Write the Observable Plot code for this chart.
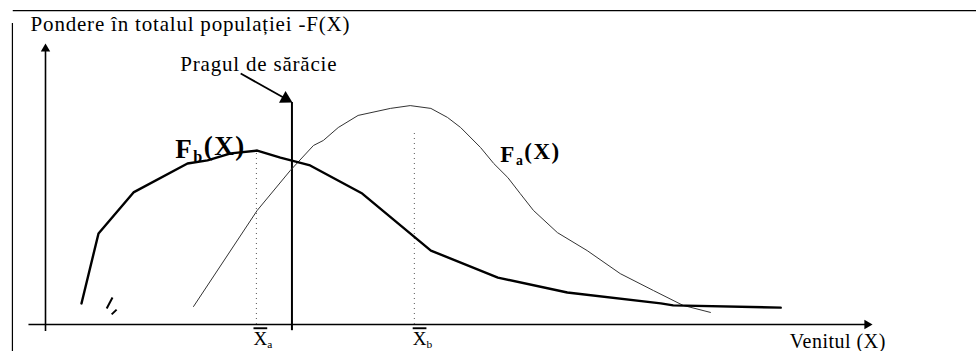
<!DOCTYPE html>
<html>
<head>
<meta charset="utf-8">
<script src="https://cdn.jsdelivr.net/npm/d3@7"></script>
<script src="https://cdn.jsdelivr.net/npm/@observablehq/plot@0.6"></script>
<style>
  html, body { margin: 0; padding: 0; background: #fff; }
  #chart { width: 976px; height: 351px; }
  #chart svg text { font-family: 'Liberation Serif', 'Times New Roman', serif; }
</style>
</head>
<body>
<div id="chart"></div>
<script>
// ---- data (income X on 0..100 scale, population share F(X) on 0..100 scale) ----
const fbIncome = [4.35, 6.41, 10.64, 17.17, 19.59, 22.4, 25.6, 28.4, 32.0, 38.3, 46.6, 54.7, 63.1, 74.4, 75.9, 88.9];
const fbShare  = [7.5, 32.4, 47.0, 57.3, 58.4, 60.9, 61.9, 59.4, 56.6, 46.6, 26.3, 16.7, 11.4, 7.5, 6.8, 6.0];

const faIncome = [17.9, 25.6, 29.6, 32.4, 33.6, 35.4, 37.8, 41.7, 44.1, 46.6, 48.6, 50.2, 52.6, 54.2, 55.9, 57.4, 59.0, 61.9, 65.5, 69.5, 73.5, 77.1, 80.4];
const faShare  = [6.4, 40.6, 54.8, 63.7, 65.5, 70.1, 74.4, 76.9, 77.9, 76.9, 73.7, 70.1, 63.0, 57.3, 52.3, 46.6, 40.6, 32.7, 26.3, 18.1, 12.1, 6.8, 4.3];

const povertyLine = 29.8;           // income at the poverty threshold
const povertyTop = 79.0;
const meanIncomes = [25.5, 44.6];   // X̄a, X̄b
const meanTops = [61.9, 68.0];
const meanLabels = ["~X_a", "~X_b"];
const meanLabelX = [25.15, 44.4];

const curveLabels = ["F_b(X)", "F_a(X)"];
const curveLabelX = [15.7, 55.0];
const curveLabelY = [59.4, 58.0];
const curveLabelSize = [27, 23];

const titleText = "Pondere în totalul populației -F(X)";
const povertyText = "Pragul de sărăcie";
const xAxisText = "Venitul (X)";

// small hand-drawn strokes near the start of F_b
const scribbleX1 = [8.1, 8.6], scribbleY1 = [9.6, 5.3];
const scribbleX2 = [7.4, 8.0], scribbleY2 = [5.7, 3.6];

// ---- tables built from the arrays ----
const fb = fbIncome.map((x, i) => ({x, y: fbShare[i]}));
const fa = faIncome.map((x, i) => ({x, y: faShare[i]}));
const means = meanIncomes.map((x, i) => ({x, top: meanTops[i], label: meanLabels[i], lx: meanLabelX[i]}));
const labels = curveLabels.map((t, i) => ({t, x: curveLabelX[i], y: curveLabelY[i]}));
const scribbles = scribbleX1.map((x, i) => ({x1: x, y1: scribbleY1[i], x2: scribbleX2[i], y2: scribbleY2[i]}));

const serif = "Liberation Serif";

const chart = Plot.plot({
  width: 976,
  height: 351,
  marginLeft: 45,
  marginRight: 104,
  marginTop: 43,
  marginBottom: 27,
  x: {domain: [0, 100], axis: null},
  y: {domain: [0, 100], axis: null},
  style: "background: #fff; overflow: visible; font-family: 'Liberation Serif', serif;",
  marks: [
    // scan frame
    Plot.ruleX([-4.0], {y1: -9.6, y2: 107.1, stroke: "#000", strokeWidth: 1.2}),
    Plot.ruleY([111.7], {x1: -3.9, x2: 112.6, stroke: "#000", strokeWidth: 1.2}),
    // axes
    Plot.ruleX([0], {y1: -2.5, y2: 98.5, stroke: "#000", strokeWidth: 1.6}),
    Plot.ruleY([0], {x1: -2.0, x2: 99.4, stroke: "#000", strokeWidth: 1.6}),
    Plot.dot([{x: 0, y: 98.1}], {x: "x", y: "y", symbol: "triangle", r: 3.5, fill: "#000", stroke: "none"}),
    Plot.dot([{x: 99.35, y: 0}], {x: "x", y: "y", symbol: "triangle", r: 3.5, fill: "#000", stroke: "none", rotate: 90}),
    // mean income guides
    Plot.ruleX(means, {x: "x", y1: 0, y2: "top", stroke: "#555", strokeWidth: 1, strokeDasharray: "1,4"}),
    // poverty threshold
    Plot.ruleX([povertyLine], {y1: -2.2, y2: povertyTop, stroke: "#000", strokeWidth: 2}),
    Plot.link([{x1: 23.6, y1: 89.3, x2: 29.04, y2: 80.36}], {x1: "x1", y1: "y1", x2: "x2", y2: "y2", stroke: "#000", strokeWidth: 1.8}),
    Plot.dot([{x: 29.04, y: 80.36}], {x: "x", y: "y", symbol: "triangle", r: 5, fill: "#000", stroke: "none", rotate: 119}),
    // curves
    Plot.line(fa, {x: "x", y: "y", stroke: "#333", strokeWidth: 1, curve: "linear"}),
    Plot.line(fb, {x: "x", y: "y", stroke: "#000", strokeWidth: 2.4, curve: "linear"}),
    Plot.link(scribbles, {x1: "x1", y1: "y1", x2: "x2", y2: "y2", stroke: "#000", strokeWidth: 2}),
    // texts
    Plot.text([titleText], {x: -1.8, y: 104.4, text: d => d, textAnchor: "start", lineAnchor: "bottom", fontSize: 21, fontFamily: serif, fill: "#000"}),
    Plot.text([povertyText], {x: 16.3, y: 90.2, text: d => d, textAnchor: "start", lineAnchor: "bottom", fontSize: 21, fontFamily: serif, fill: "#000"}),
    Plot.text([xAxisText], {x: 90.0, y: -8.2, text: d => d, textAnchor: "start", lineAnchor: "bottom", fontSize: 20, fontFamily: serif, fill: "#000"}),
    Plot.text(labels.slice(0, 1), {x: "x", y: "y", text: "t", textAnchor: "start", lineAnchor: "bottom", fontSize: curveLabelSize[0], fontWeight: "bold", fontFamily: serif, fill: "#000"}),
    Plot.text(labels.slice(1), {x: "x", y: "y", text: "t", textAnchor: "start", lineAnchor: "bottom", fontSize: curveLabelSize[1], fontWeight: "bold", fontFamily: serif, fill: "#000"}),
    Plot.text(means, {x: "lx", y: -7.4, text: "label", textAnchor: "start", lineAnchor: "bottom", fontSize: 19, fontFamily: serif, fill: "#000"})
  ]
});

// subscripts / overlines in the labels, letter spacing like the scanned type
d3.select(chart).selectAll("text").each(function () {
  const t = d3.select(this);
  const s = this.textContent;
  const m = s.match(/^(~?)(\w)_(\w)(.*)$/);
  if (!m) {
    if (s === xAxisText) t.style("letter-spacing", "0.5px");
    else t.style("letter-spacing", "0.8px");
    return;
  }
  t.text(null);
  if (m[1] !== "~") t.style("letter-spacing", "1.5px");
  const base = t.append("tspan").text(m[2]);
  if (m[1] === "~") base.style("text-decoration", "overline");
  t.append("tspan").attr("dy", "0.28em").attr("font-size", "0.6em").text(m[3]);
  if (m[4]) t.append("tspan").attr("dy", "-0.28em").text(m[4]);
});

document.getElementById("chart").appendChild(chart);
</script>
</body>
</html>
